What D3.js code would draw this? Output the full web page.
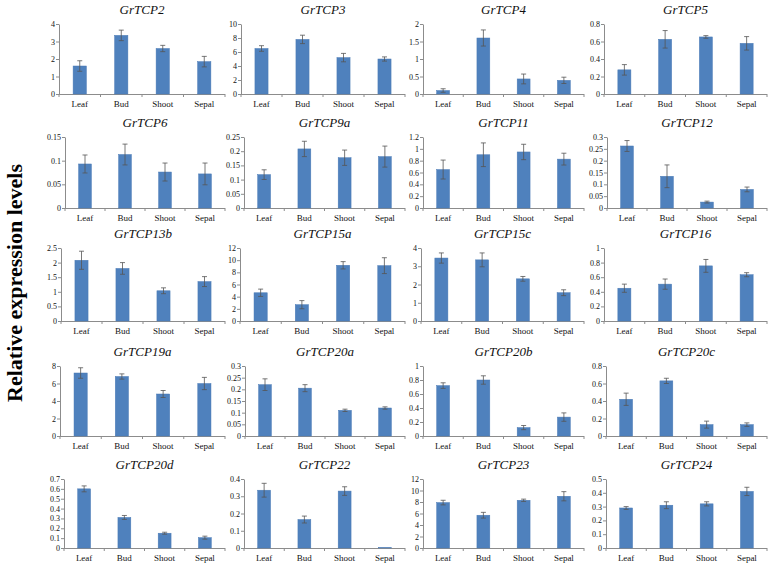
<!DOCTYPE html>
<html><head><meta charset="utf-8">
<script src="https://cdn.jsdelivr.net/npm/d3@7"></script>
<style>body{margin:0;background:#fff}svg{display:block}
svg text{font-family:"Liberation Serif","Times New Roman",Times,serif !important;}</style>
</head><body>
<svg id="c" width="778" height="565"></svg>
<script>
const categories = ["Leaf", "Bud", "Shoot", "Sepal"];
const genes = ["GrTCP2","GrTCP3","GrTCP4","GrTCP5","GrTCP6","GrTCP9a","GrTCP11","GrTCP12",
  "GrTCP13b","GrTCP15a","GrTCP15c","GrTCP16","GrTCP19a","GrTCP20a","GrTCP20b","GrTCP20c",
  "GrTCP20d","GrTCP22","GrTCP23","GrTCP24"];
const values = [
  [1.6, 3.35, 2.6, 1.85],
  [6.5, 7.8, 5.2, 5.0],
  [0.1, 1.6, 0.43, 0.39],
  [0.276, 0.625, 0.652, 0.579],
  [0.093, 0.113, 0.076, 0.072],
  [0.1175, 0.208, 0.177, 0.181],
  [0.65, 0.90, 0.947, 0.826],
  [0.262, 0.134, 0.025, 0.0785],
  [2.08, 1.80, 1.035, 1.35],
  [4.64, 2.68, 9.16, 9.1],
  [3.45, 3.35, 2.31, 1.55],
  [0.449, 0.505, 0.755, 0.634],
  [7.2, 6.8, 4.8, 6.0],
  [0.22, 0.205, 0.11, 0.12],
  [0.72, 0.80, 0.12, 0.27],
  [0.42, 0.63, 0.13, 0.13],
  [0.60, 0.31, 0.15, 0.105],
  [0.335, 0.165, 0.33, 0.002],
  [7.9, 5.7, 8.3, 9.0],
  [0.29, 0.31, 0.32, 0.41]
];
const errors = [
  [0.3, 0.3, 0.18, 0.3],
  [0.4, 0.6, 0.6, 0.3],
  [0.05, 0.23, 0.14, 0.09],
  [0.06, 0.1, 0.015, 0.077],
  [0.019, 0.022, 0.019, 0.023],
  [0.017, 0.027, 0.027, 0.037],
  [0.16, 0.2, 0.13, 0.1],
  [0.023, 0.048, 0.004, 0.01],
  [0.31, 0.2, 0.1, 0.17],
  [0.6, 0.67, 0.6, 1.3],
  [0.28, 0.38, 0.13, 0.16],
  [0.056, 0.07, 0.088, 0.028],
  [0.6, 0.3, 0.4, 0.7],
  [0.025, 0.015, 0.005, 0.005],
  [0.04, 0.06, 0.03, 0.06],
  [0.07, 0.03, 0.04, 0.02],
  [0.03, 0.02, 0.01, 0.015],
  [0.04, 0.02, 0.025, 0],
  [0.4, 0.5, 0.2, 0.8],
  [0.01, 0.025, 0.015, 0.03]
];
const yMax = [4,10,2,0.8, 0.15,0.25,1.2,0.3, 2.5,12,4,1, 8,0.3,1,0.8, 0.7,0.4,12,0.5];
const yStep = [1,2,0.5,0.2, 0.05,0.05,0.2,0.05, 0.5,2,1,0.2, 2,0.05,0.2,0.2, 0.1,0.1,2,0.1];
const yAxisTitle = "Relative expression levels";

// layout
const rowTop = [24, 137, 248, 366, 479];
const rowBase = [94, 208, 321, 436, 548];
const axisX = [
  [59, 241, 423, 604],
  [65, 244, 423, 607],
  [61, 240, 421, 604],
  [60, 245, 423, 606],
  [64, 244, 423, 606]
];
const rightX = [225, 405, 584, 767];

const svg = d3.select("#c");
const serif = "Liberation Serif";
const axisColor = "#8c8c8c";

genes.forEach((g, i) => {
  const r = Math.floor(i / 4), c = i % 4;
  const x0 = axisX[r][c], x1 = rightX[c];
  const x = d3.scaleBand().domain(categories).range([x0, x1]).paddingInner(0.68).paddingOuter(0.34);
  const y = d3.scaleLinear().domain([0, yMax[i]]).range([rowBase[r], rowTop[r]]);
  const p = svg.append("g");

  // title
  p.append("text").attr("x", (x0 + x1) / 2).attr("y", rowTop[r] - 10)
    .attr("text-anchor", "middle").attr("font-family", serif).attr("font-style", "italic")
    .attr("font-size", 13).attr("fill", "#111").text(g);

  // y axis
  const nT = Math.round(yMax[i] / yStep[i]);
  const ticks = d3.range(nT + 1).map(k => +(k * yStep[i]).toFixed(4));
  const ya = p.append("g").attr("transform", `translate(${x0},0)`)
    .call(d3.axisLeft(y).tickValues(ticks).tickSize(3).tickSizeOuter(0).tickFormat(d3.format("~g")));
  ya.select(".domain").attr("stroke", axisColor);
  ya.selectAll(".tick line").attr("stroke", axisColor);
  ya.selectAll(".tick text").attr("font-family", serif).attr("font-size", 8).attr("fill", "#111").attr("x", -4);

  // x axis line + boundary ticks
  p.append("line").attr("x1", x0).attr("x2", x1).attr("y1", rowBase[r] + 0.5).attr("y2", rowBase[r] + 0.5)
    .attr("stroke", axisColor);
  const bounds = d3.range(5).map(k => x0 + k * (x1 - x0) / 4);
  p.selectAll("line.bt").data(bounds).join("line")
    .attr("x1", d => d).attr("x2", d => d).attr("y1", rowBase[r]).attr("y2", rowBase[r] + 3)
    .attr("stroke", axisColor);
  p.selectAll("text.cat").data(categories).join("text")
    .attr("x", d => x(d) + x.bandwidth() / 2).attr("y", rowBase[r] + 13)
    .attr("text-anchor", "middle").attr("font-family", serif).attr("font-size", 9).attr("fill", "#111")
    .text(d => d);

  // bars
  const data = categories.map((cat, k) => ({cat, v: values[i][k], e: errors[i][k]}));
  p.selectAll("rect").data(data).join("rect")
    .attr("x", d => x(d.cat)).attr("width", x.bandwidth())
    .attr("y", d => y(d.v)).attr("height", d => y(0) - y(d.v))
    .attr("fill", "#4f81bd").attr("stroke", "#4a7ab5").attr("stroke-width", 0.5);

  // error bars
  const eb = p.selectAll("g.eb").data(data.filter(d => d.e > 0)).join("g");
  eb.append("line").attr("x1", d => x(d.cat) + x.bandwidth() / 2).attr("x2", d => x(d.cat) + x.bandwidth() / 2)
    .attr("y1", d => y(d.v - d.e)).attr("y2", d => y(d.v + d.e)).attr("stroke", "#555").attr("stroke-width", 0.8);
  ["-", "+"].forEach(s => {
    eb.append("line").attr("x1", d => x(d.cat) + x.bandwidth() / 2 - 2.5).attr("x2", d => x(d.cat) + x.bandwidth() / 2 + 2.5)
      .attr("y1", d => y(s === "+" ? d.v + d.e : d.v - d.e)).attr("y2", d => y(s === "+" ? d.v + d.e : d.v - d.e))
      .attr("stroke", "#555").attr("stroke-width", 0.8);
  });
});

svg.append("text").attr("transform", "translate(22,283) rotate(-90)")
  .attr("text-anchor", "middle").attr("font-family", serif).attr("font-weight", "bold")
  .attr("font-size", 22).attr("fill", "#000").text(yAxisTitle);
</script>
</body></html>
